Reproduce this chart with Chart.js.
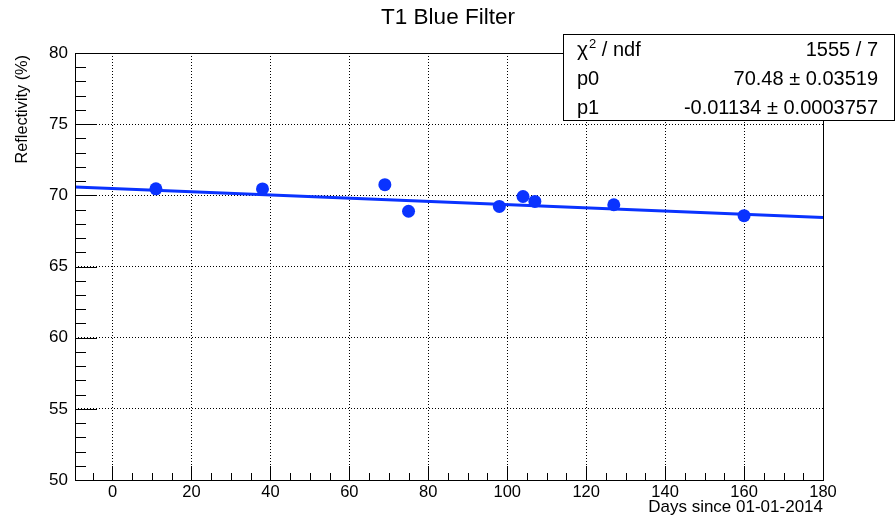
<!DOCTYPE html>
<html>
<head>
<meta charset="utf-8">
<title>T1 Blue Filter</title>
<script src="https://cdn.jsdelivr.net/npm/chart.js@4.4.1/dist/chart.umd.min.js"></script>
<style>
  html, body { margin: 0; padding: 0; background: #fff; }
  #wrap { width: 895px; height: 517px; position: relative; }
</style>
</head>
<body>
<div id="wrap"><canvas id="reflect-chart"></canvas></div>
<script>
'use strict';

// measurements
const days = [11, 38, 69, 75, 98, 104, 107, 127, 160];
const reflectivity = [70.46, 70.45, 70.75, 68.88, 69.22, 69.92, 69.57, 69.34, 68.57];

// linear fit results (pol1)
const fitP0 = 70.48;
const fitP1 = -0.01134;
const statValues = ['1555 / 7', '70.48 ± 0.03519', '-0.01134 ± 0.0003757'];
const statNames = ['p0', 'p1'];

const xRange = [-9.5, 180];
const yRange = [50, 80];
const xMajor = 20, xMinor = 5;
const yMajor = 5, yMinor = 1;

const BLUE = '#0a33ff';
const FONT = '"Liberation Sans", Arial, Helvetica, sans-serif';

const fitLine = xRange.map(x => ({ x: x, y: fitP0 + fitP1 * x }));
const points = days.map((d, i) => ({ x: d, y: reflectivity[i] }));

// major ticks only on round multiples, never on the range edges
function majorTicks(step) {
  return scale => {
    const out = [];
    for (let v = Math.ceil(scale.min / step) * step; v <= scale.max + 1e-9; v += step) out.push({ value: v });
    scale.ticks = out;
  };
}

// frame, inner ticks, titles and fit box
const rootStyle = {
  id: 'rootStyle',
  afterDraw(chart) {
    const { ctx, chartArea: a, scales } = chart;
    const xs = scales.x, ys = scales.y;
    ctx.save();
    ctx.strokeStyle = '#000';
    ctx.lineWidth = 1;

    ctx.strokeRect(a.left + 0.5, a.top + 0.5, a.right - a.left, a.bottom - a.top);

    ctx.beginPath();
    for (let v = Math.ceil(xRange[0] / xMinor) * xMinor; v <= xRange[1]; v += xMinor) {
      const px = Math.round(xs.getPixelForValue(v)) + 0.5;
      const len = (v % xMajor === 0) ? 14 : 7;
      ctx.moveTo(px, a.bottom);
      ctx.lineTo(px, a.bottom - len);
    }
    for (let v = yRange[0] + yMinor; v < yRange[1]; v += yMinor) {
      const py = Math.round(ys.getPixelForValue(v)) + 0.5;
      const len = (v % yMajor === 0) ? 22 : 11;
      ctx.moveTo(a.left, py);
      ctx.lineTo(a.left + len, py);
    }
    ctx.stroke();

    ctx.fillStyle = '#000';
    ctx.textBaseline = 'middle';
    ctx.font = '22.5px ' + FONT;
    ctx.textAlign = 'center';
    ctx.fillText('T1 Blue Filter', 448, 18);

    ctx.font = '17px ' + FONT;
    ctx.textAlign = 'right';
    ctx.textBaseline = 'alphabetic';
    ctx.fillText('Days since 01-01-2014', a.right, 512);

    ctx.save();
    ctx.translate(27, a.top + 2);
    ctx.rotate(-Math.PI / 2);
    ctx.font = '16.3px ' + FONT;
    ctx.textAlign = 'right';
    ctx.fillText('Reflectivity (%)', 0, 0);
    ctx.restore();

    // stats box
    const bx = 563, by = 34, bw = 331, bh = 86;
    ctx.fillStyle = '#fff';
    ctx.fillRect(bx, by, bw, bh);
    ctx.strokeRect(bx + 0.5, by + 0.5, bw, bh);
    ctx.fillStyle = '#000';
    const rowH = bh / statValues.length;
    const baseY = i => by + rowH * i + rowH / 2 + 8;

    // chi2 / ndf label with raised exponent
    let tx = bx + 14;
    ctx.textAlign = 'left';
    ctx.font = '21px ' + FONT;
    ctx.fillText('χ', tx, baseY(0));
    tx += ctx.measureText('χ').width + 1;
    ctx.font = '13px ' + FONT;
    ctx.fillText('2', tx, baseY(0) - 8);
    tx += ctx.measureText('2').width;
    ctx.font = '20px ' + FONT;
    ctx.fillText(' / ndf', tx, baseY(0));

    statNames.forEach((n, i) => ctx.fillText(n, bx + 14, baseY(i + 1)));
    ctx.textAlign = 'right';
    statValues.forEach((v, i) => ctx.fillText(v, bx + bw - 16, baseY(i)));
    ctx.restore();
  }
};

new Chart(document.getElementById('reflect-chart'), {
  type: 'scatter',
  data: {
    datasets: [
      {
        label: 'data',
        data: points,
        backgroundColor: BLUE,
        borderColor: BLUE,
        pointRadius: 6.5,
        pointBorderWidth: 0,
        order: 1
      },
      {
        type: 'line',
        label: 'fit',
        data: fitLine,
        borderColor: BLUE,
        borderWidth: 3,
        pointRadius: 0,
        fill: false,
        order: 2
      }
    ]
  },
  options: {
    responsive: true,
    maintainAspectRatio: false,
    animation: false,
    layout: { padding: { top: 53, right: 72, left: 0, bottom: 0 } },
    plugins: { legend: { display: false }, tooltip: { enabled: false }, title: { display: false } },
    scales: {
      x: {
        type: 'linear',
        min: xRange[0],
        max: xRange[1],
        afterBuildTicks: majorTicks(xMajor),
        afterFit: s => { s.height = 37; },
        grid: { color: '#000', lineWidth: 1, drawTicks: false },
        border: { display: false, dash: [1, 2] },
        ticks: { color: '#000', padding: 3, maxRotation: 0, autoSkip: false, font: { family: FONT, size: 16.5 } }
      },
      y: {
        type: 'linear',
        min: yRange[0],
        max: yRange[1],
        afterBuildTicks: majorTicks(yMajor),
        afterFit: s => { s.width = 75; },
        grid: { color: '#000', lineWidth: 1, drawTicks: false },
        border: { display: false, dash: [1, 2] },
        ticks: { color: '#000', padding: 7, autoSkip: false, font: { family: FONT, size: 17 } }
      }
    }
  },
  plugins: [rootStyle]
});
</script>
</body>
</html>
